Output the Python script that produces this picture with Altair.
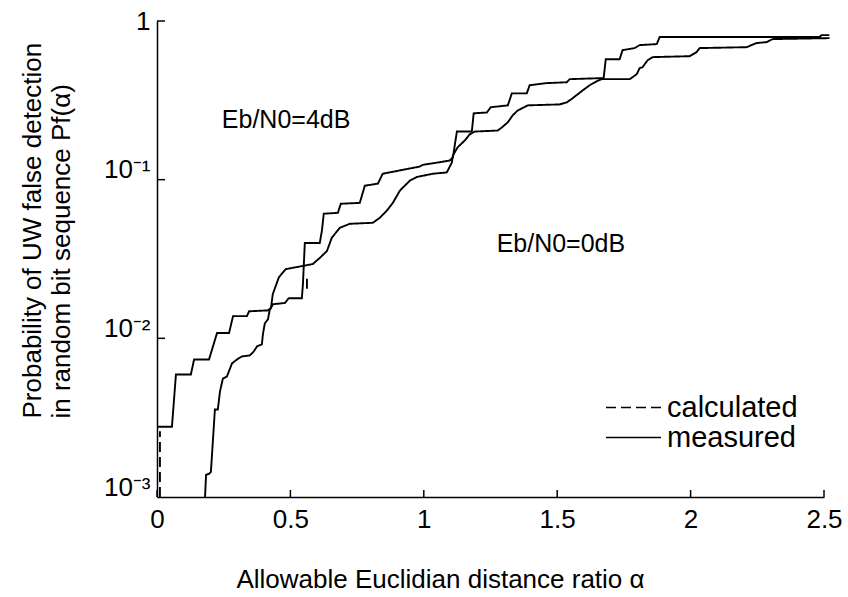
import altair as alt
import pandas as pd

# Measured curve starting near alpha = 0
a_x = [0.004, 0.056, 0.071, 0.127, 0.139, 0.195, 0.225, 0.270, 0.285, 0.337, 0.345, 0.416,
       0.427, 0.434, 0.479, 0.494, 0.543, 0.547, 0.554, 0.610, 0.618, 0.625, 0.678, 0.689,
       0.760, 0.779, 0.828, 0.846, 0.929, 0.985, 0.996, 1.049, 1.097, 1.109, 1.124, 1.180,
       1.187, 1.236, 1.251, 1.315, 1.330, 1.386, 1.397, 1.461, 1.536, 1.547, 1.659, 1.674,
       1.682, 1.734, 1.745, 1.790, 1.809, 1.873, 1.884, 2.307, 2.483, 2.491, 2.52]
a_p = [2.77e-3, 2.77e-3, 5.92e-3, 5.92e-3, 7.36e-3, 7.36e-3, 1.08e-2, 1.08e-2, 1.38e-2, 1.38e-2,
       1.48e-2, 1.50e-2, 1.55e-2, 1.64e-2, 1.67e-2, 1.79e-2, 1.79e-2, 2.20e-2, 3.99e-2, 3.99e-2,
       4.75e-2, 6.10e-2, 6.18e-2, 7.05e-2, 7.14e-2, 9.16e-2, 9.44e-2, 0.109, 0.116, 0.121,
       0.124, 0.128, 0.132, 0.138, 0.201, 0.201, 0.262, 0.265, 0.286, 0.294, 0.350, 0.350,
       0.394, 0.406, 0.411, 0.430, 0.436, 0.436, 0.574, 0.574, 0.655, 0.675, 0.705, 0.715,
       0.792, 0.792, 0.792, 0.815, 0.815]

# Measured curve starting near alpha = 0.18
b_x = [0.180, 0.184, 0.195, 0.202, 0.217, 0.228, 0.236, 0.247, 0.262, 0.281, 0.300, 0.318,
       0.348, 0.363, 0.375, 0.393, 0.397, 0.404, 0.416, 0.423, 0.427, 0.434, 0.457, 0.483,
       0.547, 0.584, 0.610, 0.637, 0.655, 0.685, 0.723, 0.809, 0.835, 0.861, 0.884, 0.910,
       0.921, 0.948, 0.974, 1.034, 1.086, 1.105, 1.109, 1.127, 1.154, 1.172, 1.191, 1.277,
       1.292, 1.315, 1.333, 1.352, 1.390, 1.509, 1.536, 1.558, 1.596, 1.622, 1.648, 1.667,
       1.772, 1.798, 1.809, 1.820, 1.839, 1.858, 1.996, 2.022, 2.034, 2.210, 2.247, 2.285,
       2.307, 2.521]
b_p = [1.00e-3, 1.38e-3, 1.40e-3, 1.44e-3, 3.56e-3, 3.56e-3, 4.62e-3, 5.58e-3, 5.74e-3, 6.95e-3,
       7.36e-3, 7.69e-3, 7.80e-3, 8.28e-3, 8.90e-3, 9.16e-3, 1.06e-2, 1.24e-2, 1.32e-2, 1.53e-2,
       1.55e-2, 1.90e-2, 2.43e-2, 2.73e-2, 2.86e-2, 2.94e-2, 3.21e-2, 3.55e-2, 4.30e-2, 4.97e-2,
       5.27e-2, 5.35e-2, 5.75e-2, 6.37e-2, 7.14e-2, 8.51e-2, 8.90e-2, 9.86e-2, 0.104, 0.109,
       0.111, 0.128, 0.142, 0.160, 0.177, 0.193, 0.201, 0.204, 0.213, 0.230, 0.254, 0.273,
       0.294, 0.298, 0.307, 0.326, 0.366, 0.394, 0.417, 0.430, 0.430, 0.462, 0.504, 0.512,
       0.566, 0.592, 0.600, 0.636, 0.675, 0.684, 0.726, 0.736, 0.769, 0.780]

# Visible pieces of the calculated curves
c1_x = [0.011, 0.011]
c1_p = [1.0e-3, 2.6e-3]
c2_x = [0.562, 0.562]
c2_p = [2.05e-2, 2.55e-2]

x_ticks = [0, 0.5, 1, 1.5, 2, 2.5]
y_ticks = [0.01, 0.1, 1]

ann_x = [0.243, 1.273]
ann_p = [0.212, 0.035]
ann_text = ["Eb/N0=4dB", "Eb/N0=0dB"]

FONT = "Liberation Sans"

rows = []
for name, kind, xs, ps in [("A", "measured", a_x, a_p), ("B", "measured", b_x, b_p),
                           ("C1", "calculated", c1_x, c1_p), ("C2", "calculated", c2_x, c2_p)]:
    for i, (xv, pv) in enumerate(zip(xs, ps)):
        rows.append({"series": name, "kind": kind, "x": xv, "p": pv, "i": i})
df = pd.DataFrame(rows)

xscale = alt.Scale(domain=[0, 2.5], nice=False, zero=False)
yscale = alt.Scale(type="log", domain=[0.001, 1], nice=False)

x_axis = alt.Axis(
    values=x_ticks, format="~g", ticks=False, grid=False,
    domainColor="black", domainWidth=1.5,
    labelFont=FONT, labelFontSize=26, labelColor="black", labelPadding=9, labelFlush=False,
    title="Allowable Euclidian distance ratio α",
    titleFont=FONT, titleFontSize=26, titleFontWeight="normal", titleColor="black",
    titleX=283, titleY=90, titleAlign="center", titleBaseline="alphabetic",
)
y_axis = alt.Axis(
    values=[0.001, 0.01, 0.1, 1], ticks=False, grid=False,
    domainColor="black", domainWidth=1.5,
    labelExpr="datum.value >= 0.5 ? '1' : datum.value >= 0.05 ? '10⁻¹' : datum.value >= 0.005 ? '10⁻²' : '10⁻³'",
    labelFont=FONT, labelFontSize=26, labelColor="black", labelPadding=7,
    labelOffset={"condition": {"test": "datum.value >= 0.5", "value": 0}, "value": -10},
    title=["Probability of UW false detection", "in random bit sequence Pf(α)"],
    titleFont=FONT, titleFontSize=26, titleFontWeight="normal", titleColor="black",
    titleAngle=270, titleAlign="left", titleBaseline="alphabetic",
    titleX=-117, titleY=397, titleLineHeight=29,
)

lines = alt.Chart(df).mark_line(color="black", strokeWidth=1.9).encode(
    x=alt.X("x:Q", scale=xscale, axis=x_axis),
    y=alt.Y("p:Q", scale=yscale, axis=y_axis),
    detail="series:N",
    order=alt.Order("i:Q"),
    strokeDash=alt.StrokeDash(
        "kind:N",
        scale=alt.Scale(domain=["calculated", "measured"], range=[[10, 5], [1, 0]]),
        legend=alt.Legend(
            title=None, orient="none", legendX=462, legendY=372,
            symbolType="M-2.5,0H2.5", symbolSize=484, symbolStrokeWidth=1.5,
            symbolStrokeColor="black", labelFont=FONT, labelFontSize=29,
            labelColor="black", labelOffset=19, rowPadding=0,
        ),
    ),
)

xt = alt.Chart(pd.DataFrame({"x": x_ticks})).mark_rule(color="black", strokeWidth=1.5).encode(
    x=alt.X("x:Q", scale=xscale), y=alt.value(476), y2=alt.value(469)
)
yt = alt.Chart(pd.DataFrame({"p": y_ticks})).mark_rule(color="black", strokeWidth=1.5).encode(
    y=alt.Y("p:Q", scale=yscale), x=alt.value(0), x2=alt.value(8)
)
ann = alt.Chart(pd.DataFrame({"x": ann_x, "p": ann_p, "label": ann_text})).mark_text(
    align="left", baseline="alphabetic", font=FONT, fontSize=25, color="black"
).encode(x=alt.X("x:Q", scale=xscale), y=alt.Y("p:Q", scale=yscale), text="label:N")

chart = alt.layer(lines, xt, yt, ann).properties(
    width=667, height=476,
    autosize=alt.AutoSizeParams(type="none"),
    padding={"left": 157, "top": 21, "right": 24, "bottom": 100},
    background="white",
).configure_view(stroke=None)

chart.save("out.html", embed_options={"renderer": "svg", "actions": False})
